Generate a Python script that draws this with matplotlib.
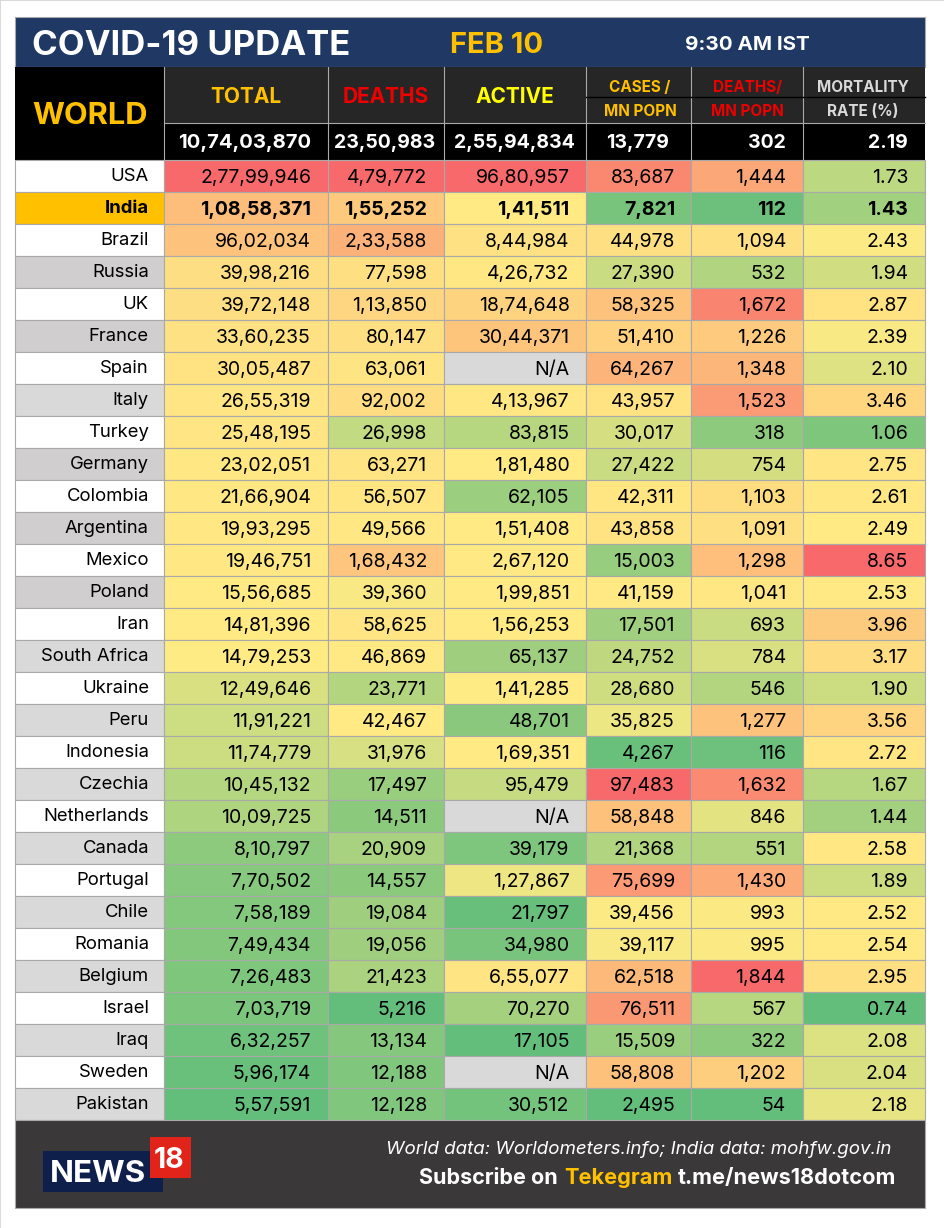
import numpy as np
import matplotlib
matplotlib.use("Agg")
import matplotlib.pyplot as plt
from matplotlib.patches import Rectangle
from matplotlib.colors import LinearSegmentedColormap, TwoSlopeNorm

FONT = "Inter"
countries = ["USA","India","Brazil","Russia","UK","France","Spain","Italy","Turkey","Germany","Colombia","Argentina","Mexico","Poland","Iran","South Africa","Ukraine","Peru","Indonesia","Czechia","Netherlands","Canada","Portugal","Chile","Romania","Belgium","Israel","Iraq","Sweden","Pakistan"]
total = ["2,77,99,946","1,08,58,371","96,02,034","39,98,216","39,72,148","33,60,235","30,05,487","26,55,319","25,48,195","23,02,051","21,66,904","19,93,295","19,46,751","15,56,685","14,81,396","14,79,253","12,49,646","11,91,221","11,74,779","10,45,132","10,09,725","8,10,797","7,70,502","7,58,189","7,49,434","7,26,483","7,03,719","6,32,257","5,96,174","5,57,591"]
deaths = ["4,79,772","1,55,252","2,33,588","77,598","1,13,850","80,147","63,061","92,002","26,998","63,271","56,507","49,566","1,68,432","39,360","58,625","46,869","23,771","42,467","31,976","17,497","14,511","20,909","14,557","19,084","19,056","21,423","5,216","13,134","12,188","12,128"]
active = ["96,80,957","1,41,511","8,44,984","4,26,732","18,74,648","30,44,371","N/A","4,13,967","83,815","1,81,480","62,105","1,51,408","2,67,120","1,99,851","1,56,253","65,137","1,41,285","48,701","1,69,351","95,479","N/A","39,179","1,27,867","21,797","34,980","6,55,077","70,270","17,105","N/A","30,512"]
cases_mn = ["83,687","7,821","44,978","27,390","58,325","51,410","64,267","43,957","30,017","27,422","42,311","43,858","15,003","41,159","17,501","24,752","28,680","35,825","4,267","97,483","58,848","21,368","75,699","39,456","39,117","62,518","76,511","15,509","58,808","2,495"]
deaths_mn = ["1,444","112","1,094","532","1,672","1,226","1,348","1,523","318","754","1,103","1,091","1,298","1,041","693","784","546","1,277","116","1,632","846","551","1,430","993","995","1,844","567","322","1,202","54"]
mortality = ["1.73","1.43","2.43","1.94","2.87","2.39","2.10","3.46","1.06","2.75","2.61","2.49","8.65","2.53","3.96","3.17","1.90","3.56","2.72","1.67","1.44","2.58","1.89","2.52","2.54","2.95","0.74","2.08","2.04","2.18"]
world_totals = ["10,74,03,870","23,50,983","2,55,94,834","13,779","302","2.19"]
columns = [total, deaths, active, cases_mn, deaths_mn, mortality]

col_edges = [15, 164, 327.5, 444, 586, 691, 802.5, 925]
num_right = [311, 427, 569.5, 675, 786, 908]
tot_right = [311, 435, 575, 669, 786, 908]
tot_size = [14.6, 14, 14, 14, 14, 14]
row_top, row_h = 160, 32

cmap = LinearSegmentedColormap.from_list("xl", ["#63BE7B", "#FFEB84", "#F8696B"])
GRID = "#A9A9A9"

fig = plt.figure(figsize=(9.44, 12.28), dpi=100)
ax = fig.add_axes([0, 0, 1, 1])
ax.set_xlim(0, 944); ax.set_ylim(1228, 0); ax.axis("off")

def box(x0, y0, x1, y1, fc, ec="none", lw=0, z=1):
    ax.add_patch(Rectangle((x0, y0), x1-x0, y1-y0, fc=fc, ec=ec, lw=lw, zorder=z))

def txt(x, y, s, size, color="black", ha="center", weight="normal", style="normal", z=5):
    return ax.text(x, y, s, fontsize=size, color=color, ha=ha, va="center_baseline",
                   fontfamily=FONT, fontweight=weight, fontstyle=style, zorder=z)

# page edge
box(0, 0, 944, 1, "#D9D9D9"); box(0, 0, 1, 1228, "#D9D9D9")

# title band
box(15, 17, 925, 67, "#1F3864", ec=GRID, lw=0.8)
txt(32, 42.5, "COVID-19 UPDATE", 25, "white", ha="left", weight="bold")
txt(450, 42.5, "FEB 10", 21, "#FFC000", ha="left", weight="bold")
txt(685, 42.5, "9:30 AM IST", 14.8, "white", ha="left", weight="bold")

# header
box(15, 67, 164, 160, "black")
box(164, 67, 925, 123, "#262626")
box(164, 123, 925, 160, "black")
for x in col_edges[1:-1]:
    ax.plot([x, x], [67, 160], color=GRID, lw=0.8, zorder=3)
ax.plot([164, 925], [123, 123], color=GRID, lw=0.8, zorder=3)
ax.plot([586, 925], [97, 97], color="black", lw=1, zorder=3)
txt(90.5, 113, "WORLD", 22.2, "#FFC000", weight="bold")
for cx, lab, c in [(246, "TOTAL", "#FFC000"), (386, "DEATHS", "#EE0000"), (515, "ACTIVE", "#FFFF00")]:
    txt(cx, 95, lab, 15, c, weight="bold")
for cx, top, bot, c in [(640, "CASES /", "MN POPN", "#FFC000"), (747, "DEATHS/", "MN POPN", "#EE0000"), (863, "MORTALITY", "RATE (%)", "#D9D9D9")]:
    txt(cx, 85.5, top, 11, c, weight="bold")
    txt(cx, 110, bot, 11, c, weight="bold")
for r, s, fs in zip(tot_right, world_totals, tot_size):
    txt(r, 141, s, fs, "white", ha="right", weight="bold")

# country column
label_fill = {"India": "#FFC000", "Russia": "#D0CECE", "France": "#D0CECE", "Germany": "#D0CECE",
              "Argentina": "#D0CECE", "Poland": "#D0CECE"}
for i, name in enumerate(countries):
    y0 = row_top + i*row_h
    fc = label_fill.get(name, "white" if i % 2 == 0 else "#D9D9D9")
    box(15, y0, 164, y0+row_h, fc, ec=GRID, lw=0.8)
    txt(149, y0+row_h/2-1.5, name, 13.3, "black", ha="right", weight="bold" if name == "India" else "normal")

# heat columns
for j, col in enumerate(columns):
    vals = np.array([np.nan if s == "N/A" else float(s.replace(",", "")) for s in col])
    norm = TwoSlopeNorm(vmin=np.nanmin(vals), vcenter=np.nanmedian(vals), vmax=np.nanmax(vals))
    for i, s in enumerate(col):
        y0 = row_top + i*row_h
        fc = "#D9D9D9" if s == "N/A" else cmap(norm(vals[i]))
        box(col_edges[j+1], y0, col_edges[j+2], y0+row_h, fc, ec=GRID, lw=0.8)
        txt(num_right[j], y0+row_h/2, s, 14, "black", ha="right", weight="bold" if i == 1 else "normal")

# footer
box(15, 1120, 925, 1208, "#3A3838", ec=GRID, lw=0.8)
box(43, 1151, 163, 1192, "#0F1F4B", z=2)
box(150, 1137, 191, 1178, "#E2231A", z=3)
txt(98, 1171, "NEWS", 22.6, "white", weight="bold")
txt(169, 1157, "18", 20.5, "white", weight="bold")
txt(891, 1147, "World data: Worldometers.info; India data: mohfw.gov.in", 13.5, "white", ha="right", style="italic")
txt(419, 1176, "Subscribe on", 15.5, "white", ha="left", weight="bold")
txt(564, 1176, "Tekegram", 15.7, "#FFC000", ha="left", weight="bold")
txt(896, 1176, "t.me/news18dotcom", 15.7, "white", ha="right", weight="bold")

fig.savefig("out.png", dpi=100)
